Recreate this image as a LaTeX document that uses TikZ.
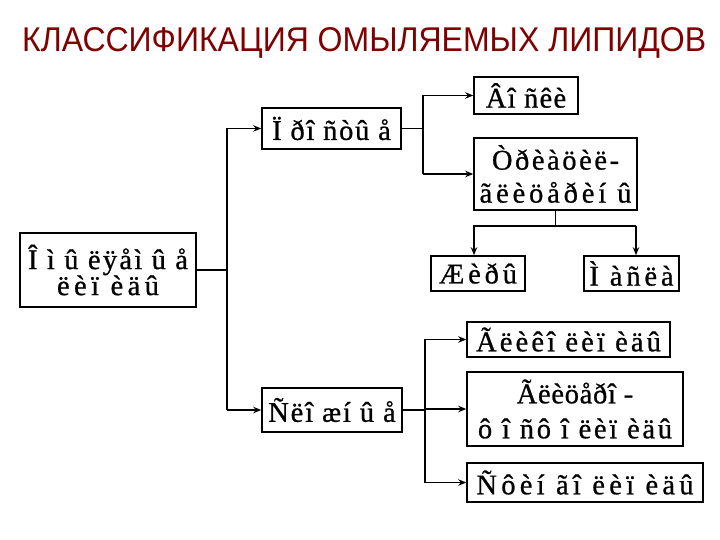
\documentclass[tikz,border=0pt]{standalone}
\usepackage{fontspec}
\setmainfont{Liberation Serif}[FakeBold=0.8]
\newfontfamily\titlefont{Liberation Sans}
\usetikzlibrary{arrows.meta}
\definecolor{titlered}{RGB}{128,0,0}
\newcommand\lsp[2]{{\addfontfeatures{LetterSpace=#1}#2}}
\tikzset{
  box/.style={draw, line width=1.6bp, inner sep=0pt, align=center,
    font=\fontsize{28.5bp}{28bp}\selectfont},
  conn/.style={line width=1.3bp},
  arr/.style={conn, -{Stealth[length=8bp,width=6.5bp]}},
}
\begin{document}
\begin{tikzpicture}[x=1bp,y=-1bp]
\useasboundingbox (0,0) rectangle (720,540);
\node[anchor=base west, inner sep=0pt, text=titlered,
  font=\titlefont\fontsize{32bp}{32bp}\selectfont] (title) at (22,52)
  {\resizebox{684bp}{24bp}{КЛАССИФИКАЦИЯ ОМЫЛЯЕМЫХ ЛИПИДОВ}};

\node[box, minimum width=176bp, minimum height=74bp,
  font=\fontsize{28.5bp}{26bp}\selectfont] (omyl) at (108,270)
  {\lsp{8}{Î ì û ëÿåì û å}\\\lsp{15.5}{ëèï èäû}};
\node[box, minimum width=139bp, minimum height=41bp] (prost) at (331.5,128.5)
  {\lsp{6}{Ï ðî ñòû å}};
\node[box, minimum width=104bp, minimum height=37bp] (voski) at (526,95.5)
  {\lsp{4.5}{Âî ñêè}};
\node[box, minimum width=163bp, minimum height=72bp,
  font=\fontsize{28.5bp}{33bp}\selectfont] (tri) at (555.5,174)
  {\lsp{9}{Òðèàöèë-}\\\lsp{13.5}{ãëèöåðèí û}};
\node[box, minimum width=94bp, minimum height=35bp] (zhiry) at (478,273.5)
  {\lsp{13.5}{Æèðû}};
\node[box, minimum width=95bp, minimum height=35bp] (masla) at (631.5,273.5)
  {\lsp{13.5}{Ì àñëà}};
\node[box, minimum width=140bp, minimum height=44bp] (slozh) at (332,410)
  {\lsp{6.5}{Ñëî æí û å}};
\node[box, minimum width=203bp, minimum height=35bp] (gliko) at (568.5,339.5)
  {\lsp{11}{Ãëèêî ëèï èäû}};
\node[box, minimum width=216bp, minimum height=74bp,
  font=\fontsize{28.5bp}{35bp}\selectfont] (glicero) at (575,409)
  {\lsp{2.5}{Ãëèöåðî -}\\\lsp{9.5}{ô î ñô î ëèï èäû}};
\node[box, minimum width=236bp, minimum height=39bp] (sfingo) at (585,482.5)
  {\lsp{15}{Ñôèí ãî ëèï èäû}};

\coordinate (tr) at (227,0);
\coordinate (b1) at (423,0);
\coordinate (b2) at (425,0);
\coordinate (jl) at (474,226);
\coordinate (jr) at (636,226);

\draw[conn] (omyl.east) -- (omyl.east -| tr);
\draw[arr] (slozh.west -| tr) -- (prost.west -| tr) -- (prost.west);
\draw[arr] (slozh.west -| tr) -- (slozh.west);

\draw[conn] (prost.east) -- (prost.east -| b1);
\draw[arr] (tri.west -| b1) -- (voski.west -| b1) -- (voski.west);
\draw[arr] (tri.west -| b1) -- (tri.west);

\draw[conn] (tri.south) -- (tri.south |- jl);
\draw[arr] (jr) -- (jl) -- (jl |- zhiry.north);
\draw[arr] (jr) -- (jr |- masla.north);

\draw[conn] (slozh.east) -- (slozh.east -| b2);
\draw[arr] (sfingo.west -| b2) -- (gliko.west -| b2) -- (gliko.west);
\draw[arr] (sfingo.west -| b2) -- (sfingo.west);
\draw[arr] (glicero.west -| b2) -- (glicero.west);
\end{tikzpicture}
\end{document}
